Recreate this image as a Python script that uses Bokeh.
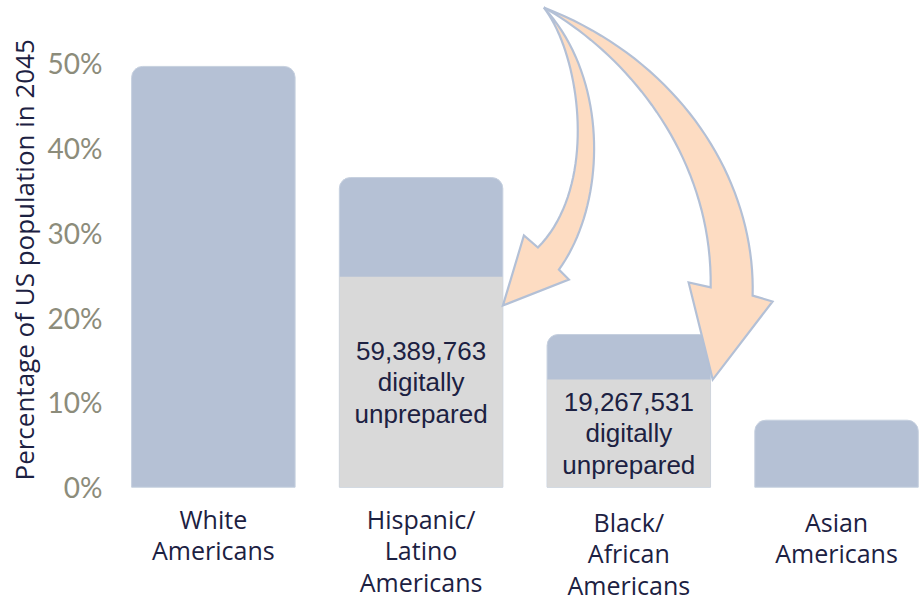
from bokeh.plotting import figure
from bokeh.models import Range1d, FixedTicker, ColumnDataSource, Title
from bokeh.core.properties import value
from bokeh.embed import file_html
from bokeh.resources import INLINE

# ---- data ----
categories = ["White\nAmericans", "Hispanic/\nLatino\nAmericans",
              "Black/\nAfrican\nAmericans", "Asian\nAmericans"]
share_2045 = [49.6, 36.5, 18.0, 7.9]           # % of US population in 2045
unprepared_share = [None, 24.8, 12.7, None]     # portion digitally unprepared (%)
unprepared_labels = [None, "59,389,763\ndigitally\nunprepared",
                     "19,267,531\ndigitally\nunprepared", None]
y_ticks = [0, 10, 20, 30, 40, 50]
y_title = "Percentage of US population in 2045"

# ---- style ----
BLUE = "#b5c1d5"
GRAY = "#d9d9d9"
NAVY = "#1c2142"
TICK = "#8c8c7b"
PEACH = "#fddcc2"
ARROW_EDGE = "#b3c0d6"

xs = list(range(len(categories)))

p = figure(width=921, height=597, output_backend="svg", toolbar_location=None,
           x_range=Range1d(-0.5, 3.409), y_range=Range1d(-13.0, 57.37),
           x_axis_location=None, min_border_left=108, min_border_right=0,
           min_border_top=0, min_border_bottom=0)
p.outline_line_color = None
p.grid.visible = False
p.background_fill_color = "white"

# full bars
p.vbar(x=xs, top=share_2045, bottom=0, width=0.787, fill_color=BLUE,
       line_color="#c6d0df", line_width=1, border_radius=(11, 11, 0, 0))

# digitally unprepared segments
ux = [x for x, u in zip(xs, unprepared_share) if u is not None]
uv = [u for u in unprepared_share if u is not None]
ul = [l for l in unprepared_labels if l is not None]
usrc = ColumnDataSource(dict(x=ux, top=uv, mid=[u / 2 for u in uv], label=ul))
p.vbar(x="x", top="top", bottom=0, width=0.787, fill_color=GRAY,
       line_color=None, source=usrc)
p.text(x="x", y="mid", text="label", source=usrc, text_align="center",
       text_baseline="middle", text_font=value("Liberation Sans"),
       text_font_size="26px", text_color=NAVY, text_line_height=1.05)

# category labels below the bars
label_top = [-1.75, -1.75, -2.1, -2.1]
p.text(x=xs, y=label_top, text=categories, text_align="center",
       text_baseline="top", text_font=value("Open Sans"),
       text_font_size="25px", text_color=NAVY, text_line_height=0.92)

# curved arrows (annotation shapes, in data units)
def bez(p0, c1, c2, p3, n=40):
    out = []
    for i in range(n + 1):
        t = i / n
        a, b, c, d = (1 - t) ** 3, 3 * (1 - t) ** 2 * t, 3 * (1 - t) * t ** 2, t ** 3
        out.append((a * p0[0] + b * c1[0] + c * c2[0] + d * p3[0],
                    a * p0[1] + b * c1[1] + c * c2[1] + d * p3[1]))
    return out

apex = (1.591, 56.54)
arrow1 = (bez(apex, (1.769, 50.88), (1.856, 35.56), (1.5625, 28.25))
          + [(1.495, 29.67), (1.394, 21.42), (1.7115, 24.48)]
          + bez((1.6635, 25.66), (1.889, 33.2), (1.913, 47.93), apex))
arrow2 = (bez(apex, (1.9615, 51.47), (2.404, 39.69), (2.394, 23.55))
          + [(2.288, 24.13), (2.404, 12.69), (2.692, 21.89)]
          + bez((2.596, 22.59), (2.611, 36.15), (2.25, 50.29), apex))
for arr in (arrow1, arrow2):
    p.patch([q[0] for q in arr], [q[1] for q in arr], fill_color=PEACH,
            line_color=ARROW_EDGE, line_width=2.2, line_join="miter")

# y axis
ax = p.yaxis[0]
ax.ticker = FixedTicker(ticks=y_ticks)
ax.major_label_overrides = {t: f"{t}%" for t in y_ticks}
ax.axis_line_color = None
ax.major_tick_line_color = None
ax.minor_tick_line_color = None
ax.major_label_standoff = 1
ax.major_label_text_font = "Lato"
ax.major_label_text_font_size = "28px"
ax.major_label_text_color = TICK

# y-axis title, as a side title so it can sit where the reference has it
p.add_layout(Title(text=y_title, align="left", offset=117,
                   text_font="Open Sans", text_font_size="26px",
                   text_font_style="normal", text_color=NAVY,
                   standoff=6), "left")

open("out.html", "w").write(file_html(p, INLINE))
